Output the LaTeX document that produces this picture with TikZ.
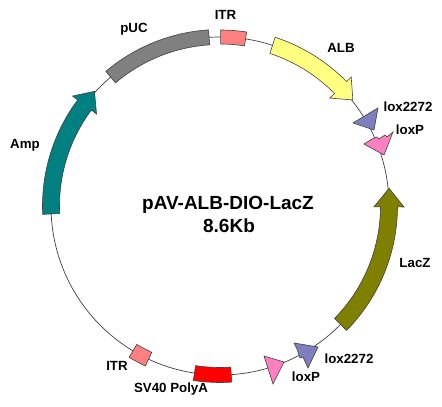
\documentclass[tikz,border=0pt]{standalone}
\usepackage{fontspec}
\setmainfont{Liberation Sans}
\definecolor{pucgray}{HTML}{808080}
\definecolor{itrred}{HTML}{FF8080}
\definecolor{albyellow}{HTML}{FFFF80}
\definecolor{loxblue}{HTML}{7F7FC0}
\definecolor{loxpink}{HTML}{FF80C0}
\definecolor{laczolive}{HTML}{808000}
\definecolor{ampteal}{HTML}{008080}
\definecolor{polyared}{HTML}{FF0000}

% box on the backbone: start angle, end angle, inner radius, outer radius, fill
\newcommand{\featbox}[5]{%
  \filldraw[feature, fill=#5] (#1:#3) arc[start angle=#1, end angle=#2, radius=#3]
    -- (#2:#4) arc[start angle=#2, end angle=#1, radius=#4] -- cycle;}
% arrow on the backbone: tail angle, head base angle, tip angle, fill
\newcommand{\featarrow}[4]{%
  \filldraw[feature, fill=#4] (#1:177.5pt) arc[start angle=#1, end angle=#2, radius=177.5pt]
    -- (#2:184pt) -- (#3:170pt) -- (#2:154pt) -- (#2:160.5pt)
    arc[start angle=#2, end angle=#1, radius=160.5pt] -- cycle;}

\begin{document}
\begin{tikzpicture}[x=1pt,y=1pt,
    feature/.style={draw=black!75, line width=0.6pt},
    lbl/.style={font=\bfseries\fontsize{13.3}{15}\selectfont, anchor=base, inner sep=0pt},
    title/.style={font=\bfseries\fontsize{19}{21}\selectfont, anchor=base, inner sep=0pt}]
  \useasboundingbox (-220,-201) rectangle (222,206);

  % backbone
  \draw[black!75, line width=0.7pt] (0,0) circle[radius=169pt];

  % features
  \featbox{93.7}{130.3}{161.5pt}{176.5pt}{pucgray}
  \featbox{81.3}{89.8}{162pt}{176pt}{itrred}
  \featarrow{71.9}{44.5}{38.6}{albyellow}
  \featarrow{182.7}{143.3}{137.6}{ampteal}
  \featarrow{-44.5}{-0.3}{6.0}{laczolive}
  \featbox{261.3}{273.8}{161.5pt}{176.5pt}{polyared}
  \featbox{239}{245}{161.5pt}{176.5pt}{itrred}

  % lox sites
  \filldraw[feature, fill=loxblue] (133,83) -- (158,98) -- (154,76) -- cycle;
  \filldraw[feature, fill=loxpink] (144,62) -- (152,67) -- (157,69) -- (159,67) -- (165,71)
    -- (167,69) -- (173,74) -- (164,51) -- cycle;
  \filldraw[feature, fill=loxpink] (44,-150) -- (64,-156) -- (53,-178) -- cycle;
  \filldraw[feature, fill=loxblue] (74,-137) -- (98,-141) -- (88,-162) -- (83,-151)
    -- (80,-152) -- (77,-143) -- cycle;

  % labels
  \node[lbl] (puc)    at (-86, 173)  {pUC};
  \node[lbl] (itrtop) at (5.5, 186)  {ITR};
  \node[lbl] (alb)    at (121, 153)  {ALB};
  \node[lbl] (loxa)   at (188, 94)   {lox2272};
  \node[lbl] (loxpa)  at (190, 71)   {loxP};
  \node[lbl] (amp)    at (-195, 57)  {Amp};
  \node[lbl] (lacz)   at (195, -61)  {LacZ};
  \node[lbl] (loxb)   at (129, -157) {lox2272};
  \node[lbl] (loxpb)  at (86, -175)  {loxP};
  \node[lbl] (itrbot) at (-103, -164) {ITR};
  \node[lbl] (polya)  at (-49, -186) {SV40 PolyA};

  \node[title] (name) at (8, -4)  {pAV-ALB-DIO-LacZ};
  \node[title] (size) at (9, -26) {8.6Kb};
\end{tikzpicture}
\end{document}
